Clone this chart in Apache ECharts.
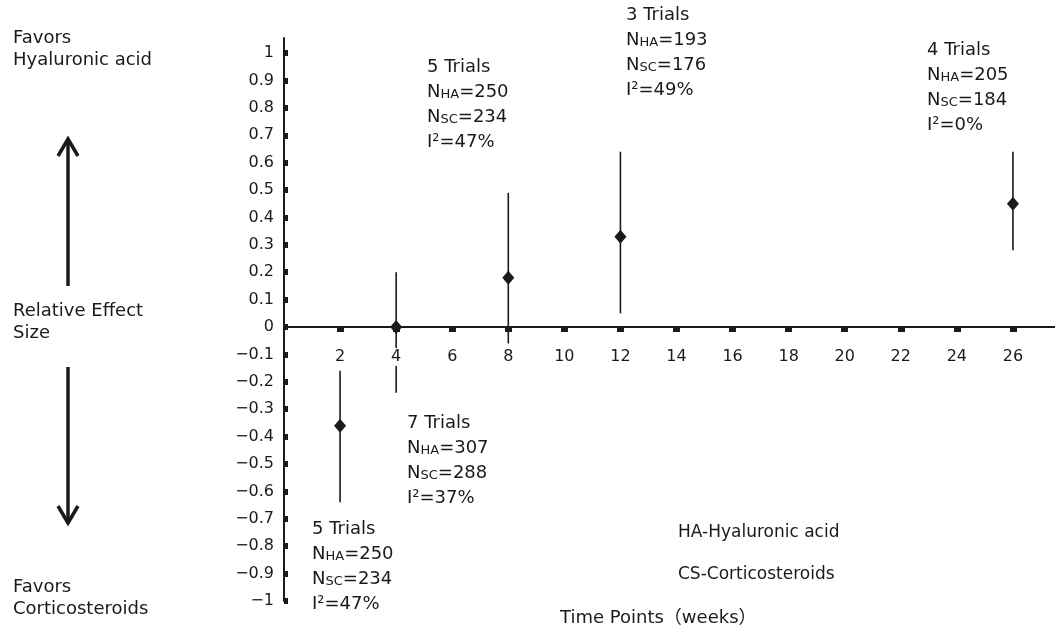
<!DOCTYPE html>
<html>
<head>
<meta charset="utf-8">
<script src="https://cdn.jsdelivr.net/npm/echarts@6/dist/echarts.min.js"></script>
<style>
  html, body { margin: 0; padding: 0; background: #fff; }
  #main { width: 1055px; height: 631px; }
</style>
</head>
<body>
<div id="main"></div>
<script>
var chartDom = document.getElementById('main');
var myChart = echarts.init(chartDom);
var option;

// time points (weeks) and pooled effect sizes
var weeks = [2, 4, 8, 12, 26];
var effect = [-0.36, 0, 0.18, 0.33, 0.45];
var lower = [-0.64, -0.24, -0.06, 0.05, 0.28];
var upper = [-0.16, 0.2, 0.49, 0.64, 0.64];

// annotation numbers for each time point
var trials = [5, 7, 5, 3, 4];
var nHA = [250, 307, 250, 193, 205];
var nSC = [234, 288, 234, 176, 184];
var iSquared = [47, 37, 47, 49, 0];

// axis tick labels
var xTicks = [2, 4, 6, 8, 10, 12, 14, 16, 18, 20, 22, 24, 26];
var yTicks = [-1, -0.9, -0.8, -0.7, -0.6, -0.5, -0.4, -0.3, -0.2, -0.1, 0,
              0.1, 0.2, 0.3, 0.4, 0.5, 0.6, 0.7, 0.8, 0.9, 1];

var FONT = '"DejaVu Sans", "Liberation Sans", sans-serif';
var INK = '#1a1a1a';

var yMin = -1, yMax = 1.055;
var gridTop = 38, gridBottom = 30;
var gridH = 631 - gridTop - gridBottom;
// the x axis sits on y = 0
var zeroOffset = -gridH * (0 - yMin) / (yMax - yMin);

// where each annotation block sits (pixels)
var notePos = [[312, 520], [407, 414], [427, 58], [626, 6], [927, 41]];

var rich = {
  m: { fontSize: 18, fontFamily: FONT, color: INK, lineHeight: 25, verticalAlign: 'bottom' },
  s: { fontSize: 13, fontFamily: FONT, color: INK, lineHeight: 21, verticalAlign: 'bottom' }
};

var graphics = [];
weeks.forEach(function (w, i) {
  var txt = '{m|' + trials[i] + ' Trials}\n' +
    '{m|N}{s|HA}{m|=' + nHA[i] + '}\n' +
    '{m|N}{s|SC}{m|=' + nSC[i] + '}\n' +
    '{m|I\u00B2=' + iSquared[i] + '%}';
  graphics.push({
    type: 'text', left: notePos[i][0], top: notePos[i][1],
    style: { text: txt, rich: rich, fill: INK }
  });
});

function plain(x, y, s, size) {
  return { type: 'text', left: x, top: y,
    style: { text: s, font: (size || 18) + 'px ' + FONT, fill: INK } };
}

graphics.push(plain(13, 29, 'Favors'));
graphics.push(plain(13, 51, 'Hyaluronic acid'));
graphics.push(plain(13, 302, 'Relative Effect'));
graphics.push(plain(13, 324, 'Size'));
graphics.push(plain(13, 578, 'Favors'));
graphics.push(plain(13, 600, 'Corticosteroids'));
graphics.push(plain(678, 524, 'HA-Hyaluronic acid', 17));
graphics.push(plain(678, 566, 'CS-Corticosteroids', 17));
graphics.push({ type: 'text', left: 560, top: 609,
  style: { text: 'Time Points\uFF08weeks\uFF09', fill: INK,
    font: '18px "DejaVu Sans", "Noto Sans CJK SC", sans-serif' } });

// arrows
var arrowStyle = { stroke: INK, lineWidth: 3.5, fill: null };
graphics.push({ type: 'line', shape: { x1: 68, y1: 140, x2: 68, y2: 286 }, style: arrowStyle });
graphics.push({ type: 'polyline', shape: { points: [[58, 156], [68, 139], [78, 156]] }, style: arrowStyle });
graphics.push({ type: 'line', shape: { x1: 68, y1: 367, x2: 68, y2: 522 }, style: arrowStyle });
graphics.push({ type: 'polyline', shape: { points: [[58, 506], [68, 523], [78, 506]] }, style: arrowStyle });

function fmtY(v) {
  var r = Math.round(v * 10) / 10;
  if (r < 0) return '\u2212' + Math.abs(r);
  return String(r);
}

option = {
  animation: false,
  backgroundColor: '#fff',
  grid: { left: 284, right: 0, top: gridTop, bottom: gridBottom, outerBoundsMode: 'none' },
  xAxis: {
    type: 'value',
    min: 0, max: 27.5, interval: 2,
    z: 5,
    offset: zeroOffset,
    splitLine: { show: false },
    axisLine: { onZero: false, lineStyle: { color: INK, width: 2 } },
    axisTick: { customValues: xTicks, length: 5, lineStyle: { color: INK, width: 7 } },
    axisLabel: {
      customValues: xTicks, margin: 21, color: INK, fontSize: 16, fontFamily: FONT,
      backgroundColor: '#fff', padding: [1, 1]
    }
  },
  yAxis: {
    type: 'value',
    min: yMin, max: yMax,
    splitLine: { show: false },
    axisLine: { lineStyle: { color: INK, width: 2 } },
    axisTick: { customValues: yTicks, inside: true, length: 4, lineStyle: { color: INK, width: 6 } },
    axisLabel: {
      customValues: yTicks, margin: 10, color: INK, fontSize: 16, fontFamily: FONT,
      formatter: fmtY
    }
  },
  graphic: graphics,
  series: [
    {
      type: 'custom',
      data: weeks.map(function (w, i) { return [w, lower[i], upper[i]]; }),
      renderItem: function (params, api) {
        var a = api.coord([api.value(0), api.value(1)]);
        var b = api.coord([api.value(0), api.value(2)]);
        return {
          type: 'line',
          shape: { x1: a[0], y1: a[1], x2: b[0], y2: b[1] },
          style: { stroke: INK, lineWidth: 1.6 }
        };
      },
      z: 2
    },
    {
      type: 'scatter',
      data: weeks.map(function (w, i) { return [w, effect[i]]; }),
      symbol: 'diamond',
      symbolSize: [12, 14],
      itemStyle: { color: INK, opacity: 1 },
      z: 3
    }
  ]
};

option && myChart.setOption(option);
</script>
</body>
</html>
